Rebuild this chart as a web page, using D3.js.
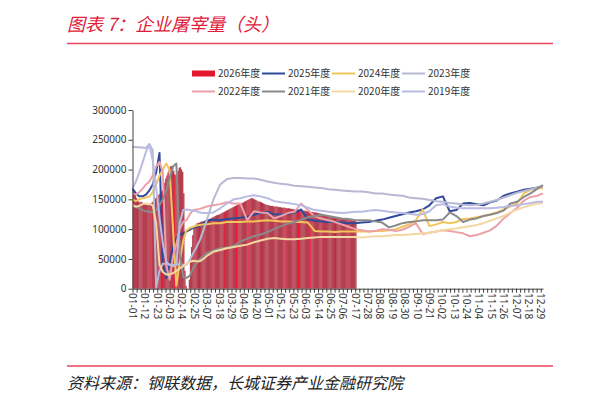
<!DOCTYPE html>
<html><head><meta charset="utf-8">
<script src="https://cdn.jsdelivr.net/npm/d3@7"></script>
<style>
body{margin:0;background:#fff;}
svg{display:block;font-family:"Noto Sans CJK SC","Noto Sans",sans-serif;}
</style>
</head><body>
<svg id="c" width="611" height="402"></svg>
<script>
// ---------- data ----------
const xLabels = ["01-01","01-12","01-23","02-03","02-14","02-25","03-07","03-18","03-29","04-09","04-20","05-01","05-12","05-23","06-03","06-14","06-25","07-06","07-17","07-28","08-08","08-19","08-30","09-10","09-21","10-02","10-13","10-24","11-04","11-15","11-26","12-07","12-18","12-29"];
const yTicks = [0,50000,100000,150000,200000,250000,300000];
const seriesNames = ["2026年度","2025年度","2024年度","2023年度","2022年度","2021年度","2020年度","2019年度"];

// 2026: daily values (thousand head), 01-01 .. 07-17
const bars2026 = [
165,163,160,152,148,146,145,146,145,144,
143,142,141,140,141,142,143,145,147,150,
152,155,157,158,160,163,165,170,178,185,
190,195,200,205,206,204,198,192,190,192,
198,203,204,200,196,160,30,5,0,0,
15,45,70,90,100,105,108,110,110,111,
112,113,113,114,114,115,115,116,117,118,
119,120,121,122,123,124,124,125,126,127,
128,129,130,131,132,133,134,135,136,137,
138,139,140,141,142,142,143,144,145,146,
147,148,149,150,151,152,152,151,150,149,
148,147,146,146,145,144,143,142,141,141,
140,140,139,139,139,138,138,138,138,137,
137,137,136,136,136,136,135,135,135,135,
134,134,134,133,133,133,133,132,132,132,
132,131,131,131,130,130,130,129,129,129,
129,128,128,128,127,127,126,126,125,125,
124,124,123,123,122,122,121,121,120,120,
120,119,119,118,118,118,117,117,117,116,
116,116,115,115,115,114,114,114,113];

// sample days (day of year, 0 = 01-01) for the line series
const sampleDays = [0,3,6,9,12,15,18,21,24,27,30,33,36,39,42,45,48,51,54,57,60,63,
66,72,78,84,90,96,102,108,114,120,126,132,138,144,150,156,162,168,174,180,186,192,198,204,210,216,222,228,234,240,246,252,258,264,270,276,282,288,294,300,306,312,318,324,330,336,342,348,354,360,365];

const s2025 = [168,160,155,155,158,165,175,195,228,40,18,45,70,85,90,93,96,99,102,104,106,110,
114,116,115,117,118,119,121,124,127,129,125,124,126,128,133,116,114,113,112,112,
111,110,110,111,112,114,116,119,122,125,128,130,133,140,152,155,130,132,143,144,
142,140,145,148,156,160,163,166,168,170,172];
const s2024 = [150,147,150,152,153,155,162,175,190,200,210,200,100,5,45,80,98,102,104,106,107,108,
108,110,110,112,112,112,113,113,114,115,114,113,113,112,112,111,97,96,96,95,
96,96,96,96,96,97,97,98,100,104,108,115,133,105,108,112,110,112,117,118,
120,122,125,128,133,138,143,160,166,169,168];
const s2023 = [238,238,237,237,236,243,232,2,30,42,42,40,40,40,42,40,40,48,60,70,82,98,
115,150,175,184,186,186,185,185,183,180,178,176,175,173,172,171,170,169,167,166,
165,164,163,163,162,160,160,158,157,156,153,152,151,149,147,146,144,143,141,140,
141,143,146,149,153,157,161,164,167,170,171];
const s2022 = [160,158,162,168,175,180,190,205,213,195,40,15,54,75,100,112,115,125,132,133,134,136,
138,140,142,145,143,143,115,130,128,127,118,122,127,129,143,132,121,118,115,112,
108,104,100,98,96,97,100,99,97,99,104,110,92,94,96,98,97,95,93,88,
90,94,98,106,118,127,136,148,154,156,160];
const s2021 = [138,137,135,132,130,129,128,132,140,150,165,185,205,210,60,20,18,22,35,43,50,55,
60,64,68,69,72,79,84,88,91,95,100,105,109,112,116,120,122,124,122,120,
118,117,115,115,115,113,111,103,106,110,112,113,115,115,115,116,128,122,112,116,
118,122,124,127,131,143,146,154,160,168,174];
const s2020 = [140,138,139,142,143,142,140,110,40,28,24,24,26,30,34,38,42,45,47,46,46,50,
55,62,65,68,70,72,74,78,81,84,85,84,83,83,84,85,86,87,87,87,
87,87,87,86,87,88,88,89,90,90,91,92,93,94,96,98,100,101,103,105,
107,110,114,118,122,128,133,137,140,143,144];
const s2019 = [168,180,195,212,230,242,215,170,120,75,45,40,38,40,110,132,133,132,131,130,128,127,
127,128,135,143,150,152,155,157,155,152,147,145,144,142,140,136,132,131,129,128,
127,128,129,129,131,132,131,129,128,127,126,124,125,130,140,142,138,136,135,135,
135,135,135,136,137,139,140,142,144,146,146];

// ---------- drawing ----------
const svg = d3.select("#c");
const K = 1000;
const x = d3.scaleLinear().domain([0,365]).range([132.5,543]);
const y = d3.scaleLinear().domain([0,300000]).range([288.7,110]);

const lineSeries = [
  {name:seriesNames[1], vals:s2025, color:"#2f4a9b"},
  {name:seriesNames[2], vals:s2024, color:"#f2c55a"},
  {name:seriesNames[3], vals:s2023, color:"#b7b8d3"},
  {name:seriesNames[4], vals:s2022, color:"#eca1a9"},
  {name:seriesNames[5], vals:s2021, color:"#8a8a8a"},
  {name:seriesNames[6], vals:s2020, color:"#f3d8a3"},
  {name:seriesNames[7], vals:s2019, color:"#babbe2"}
];

// title
svg.append("text").attr("x",67).attr("y",31)
  .attr("font-size",18).attr("font-style","italic").attr("fill","#e0203a")
  .text("图表 7：企业屠宰量（头）");
svg.append("line").attr("x1",67).attr("x2",553).attr("y1",43.5).attr("y2",43.5)
  .attr("stroke","#e8455a").attr("stroke-width",1.5);

// bars
const barG = svg.append("g");
barG.selectAll("rect").data(bars2026).join("rect")
  .attr("x",(d,i)=>x(i))
  .attr("width",(d,i)=>x(i+1)-x(i)+0.25)
  .attr("y",d=>y(d*K))
  .attr("height",d=>y(0)-y(d*K))
  .attr("fill",(d,i)=> (i%11===4) ? "#e8172f" : "#b43e4f");

// lines
const lineGen = vals => d3.line().x((d,i)=>x(sampleDays[i])).y(d=>y(d*K))(vals);
lineSeries.forEach(s=>{
  svg.append("path").attr("d",lineGen(s.vals)).attr("fill","none")
    .attr("stroke",s.color).attr("stroke-width",2).attr("stroke-linejoin","round");
});

// y axis
const yAxis = d3.axisLeft(y).tickValues(yTicks).tickSize(4).tickSizeOuter(0).tickFormat(d3.format("d"));
const gy = svg.append("g").attr("transform","translate(132.5,0)").call(yAxis);
gy.select(".domain").attr("stroke","#404040");
gy.selectAll(".tick line").attr("stroke","#404040");
gy.selectAll(".tick text").attr("font-size",10).attr("fill","#333").attr("x",-6)
  .attr("font-family","'Noto Sans','DejaVu Sans',sans-serif");

// x axis: minor ticks every 11/3 days, labels every 11 days
const labelDays = xLabels.map((l,i)=>i*11);
const tickDays = d3.range(0,366,11/3);
const xAxis = d3.axisBottom(x).tickValues(tickDays).tickSize(4).tickSizeOuter(0).tickFormat("");
const gx = svg.append("g").attr("transform","translate(0,288.7)").call(xAxis);
gx.select(".domain").attr("stroke","#404040");
gx.selectAll(".tick line").attr("stroke","#404040");
svg.append("g").selectAll("text").data(xLabels).join("text")
  .attr("transform",(d,i)=>`translate(${x(labelDays[i])},293) rotate(90)`)
  .attr("dy","0.35em").attr("font-size",10).attr("fill","#333")
  .attr("font-family","'Noto Sans','DejaVu Sans',sans-serif")
  .text(d=>d);

// legend
const legX = [192,262,332,402];
const legY = [73.5,91.5];
seriesNames.forEach((n,i)=>{
  const lx = legX[i%4], ly = legY[Math.floor(i/4)];
  if(i===0){
    svg.append("rect").attr("x",lx).attr("y",ly-3).attr("width",23).attr("height",6).attr("fill","#e3172d");
  } else {
    svg.append("line").attr("x1",lx).attr("x2",lx+23).attr("y1",ly).attr("y2",ly)
      .attr("stroke",lineSeries[i-1].color).attr("stroke-width",2);
  }
  svg.append("text").attr("x",lx+26).attr("y",ly).attr("dy","0.35em")
    .attr("font-size",10).attr("fill","#333").text(n);
});

// source
svg.append("line").attr("x1",67).attr("x2",553).attr("y1",366).attr("y2",366)
  .attr("stroke","#e8455a").attr("stroke-width",1.5);
svg.append("text").attr("x",67).attr("y",389)
  .attr("font-size",16).attr("font-style","italic").attr("fill","#222")
  .text("资料来源：钢联数据，长城证券产业金融研究院");
</script>
</body></html>
